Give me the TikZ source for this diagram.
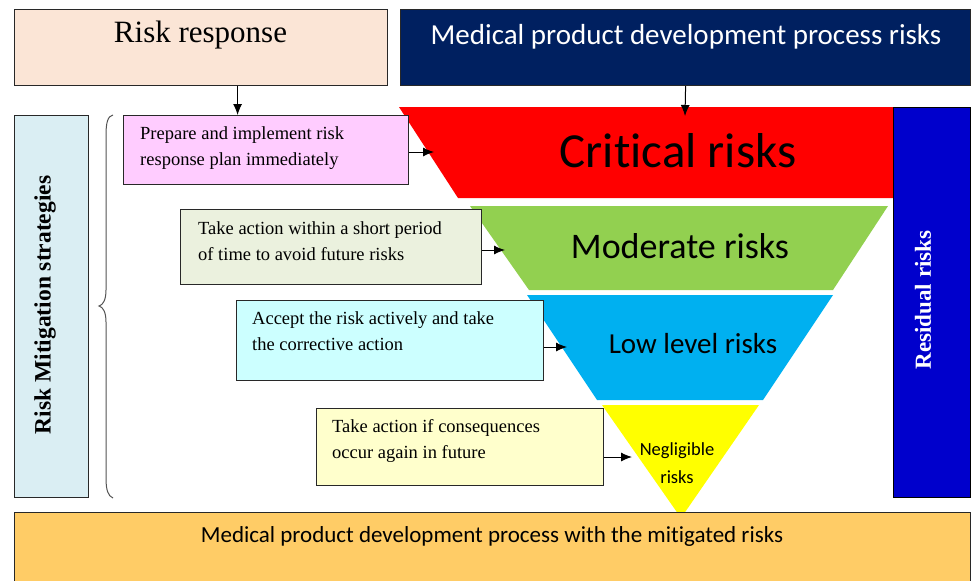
\documentclass[tikz,border=0pt]{standalone}
\usepackage{fontspec}
\setmainfont{Liberation Serif}
\newfontfamily\calib[Ligatures=NoCommon]{Carlito}
\usetikzlibrary{arrows.meta}
\definecolor{peach}{RGB}{251,229,214}
\definecolor{navy}{RGB}{0,32,96}
\definecolor{mitblue}{RGB}{218,238,243}
\definecolor{pinkbox}{RGB}{255,204,255}
\definecolor{greenbox}{RGB}{235,241,222}
\definecolor{cyanbox}{RGB}{204,255,255}
\definecolor{yellowbox}{RGB}{255,255,204}
\definecolor{critred}{RGB}{255,0,0}
\definecolor{modgreen}{RGB}{146,208,80}
\definecolor{lowblue}{RGB}{0,176,240}
\definecolor{negyellow}{RGB}{255,255,0}
\definecolor{resblue}{RGB}{0,0,204}
\definecolor{bottomorange}{RGB}{255,204,102}
\definecolor{boxline}{RGB}{40,40,40}
\begin{document}
\begin{tikzpicture}[x=1pt,y=-1pt,
  box/.style={draw=boxline, line width=1.2pt, rectangle, inner sep=0pt, anchor=north west},
  arr/.style={draw=black, line width=1pt, -{Latex[length=11pt,width=9pt]}},
  boxtext/.style={font=\fontsize{18.5}{26}\selectfont, align=left, inner sep=0pt, anchor=base west},
  riskfont/.style={inner sep=0pt, anchor=base}]
\useasboundingbox (0,0) rectangle (972,581);

% risk funnel
\fill[critred] (399,107) -- (900,107) -- (900,198) -- (458,198) -- cycle;
\fill[modgreen] (470,206) -- (888,206) -- (833,290) -- (529,290) -- cycle;
\fill[lowblue] (527,295) -- (833,295) -- (763,400) -- (597,400) -- cycle;
\fill[negyellow] (602,405) -- (759,405) -- (681,518) -- cycle;
\node[riskfont, font=\calib\fontsize{49}{58}\selectfont] (crit) at (678,167) {Critical risks};
\node[riskfont, font=\calib\fontsize{36}{42}\selectfont] (mod) at (680,258) {Moderate risks};
\node[riskfont, font=\calib\fontsize{29}{34}\selectfont] (low) at (693,353) {Low level risks};
\node[riskfont, font=\calib\fontsize{18.5}{28}\selectfont, align=center] (neg) at (677,483) {Negligible\\risks};
\coordinate (critin) at (685,116);
\coordinate (critL) at (434,152);
\coordinate (modL) at (505,250);
\coordinate (lowL) at (567,347);
\coordinate (negL) at (632,457);

% top boxes
\node[box, fill=peach, minimum width=373pt, minimum height=76pt] (rr) at (14,9) {};
\node[riskfont, font=\fontsize{31}{36}\selectfont] (rrt) at (200.5,42) {Risk response};
\node[box, fill=navy, minimum width=570pt, minimum height=76pt] (mp) at (400,9) {};
\node[riskfont, font=\calib\fontsize{29}{34}\selectfont, text=white] (mpt) at (686,44) {Medical product development process risks};

% side boxes
\node[box, fill=mitblue, minimum width=74pt, minimum height=382pt] (mit) at (14,115) {};
\node[rotate=90, inner sep=0pt, font=\bfseries\fontsize{23.5}{28}\selectfont] (mitt) at (45,305) {Risk Mitigation strategies};
\node[box, draw=black, fill=resblue, minimum width=77pt, minimum height=390pt] (res) at (893,107) {};
\node[rotate=90, inner sep=0pt, text=white, font=\bfseries\fontsize{23}{28}\selectfont] (rest) at (923,300) {Residual risks};

% brace
\draw[draw=boxline!80, line width=1pt] (113,115) .. controls (108,116) and (106,122) .. (106,135) -- (106,290) .. controls (106,300) and (103,305) .. (99,306) .. controls (103,307) and (106,312) .. (106,322) -- (106,478) .. controls (106,490) and (108,496) .. (113,498);

% strategy boxes
\node[box, fill=pinkbox, minimum width=285pt, minimum height=69pt] (prep) at (123,115) {};
\node[boxtext] (prept) at (140,165.5) {Prepare and implement risk\\response plan immediately};
\node[box, fill=greenbox, minimum width=301pt, minimum height=75pt] (take) at (180,209) {};
\node[boxtext] (taket) at (198,260.5) {Take action within a short period\\of time to avoid future risks};
\node[box, fill=cyanbox, minimum width=307pt, minimum height=80pt] (acc) at (236,300) {};
\node[boxtext] (acct) at (252,350.5) {Accept the risk actively and take\\the corrective action};
\node[box, fill=yellowbox, minimum width=287pt, minimum height=77pt] (ifc) at (316,408) {};
\node[boxtext] (ifct) at (332,458.5) {Take action if consequences\\occur again in future};

% arrows
\draw[arr] ([xshift=36.5pt]rr.south) -- ([xshift=36.5pt]rr.south |- prep.north);
\draw[arr] (mp.south) -- (critin);
\draw[arr] (prep.east |- critL) -- (critL);
\draw[arr] (take.east |- modL) -- (modL);
\draw[arr] (acc.east |- lowL) -- (lowL);
\draw[arr] (ifc.east |- negL) -- (negL);

% bottom box
\node[box, fill=bottomorange, minimum width=956pt, minimum height=72pt] (bot) at (14,512) {};
\node[riskfont, font=\calib\fontsize{23}{28}\selectfont] (bott) at (492,542) {Medical product development process with the mitigated risks};
\end{tikzpicture}
\end{document}
